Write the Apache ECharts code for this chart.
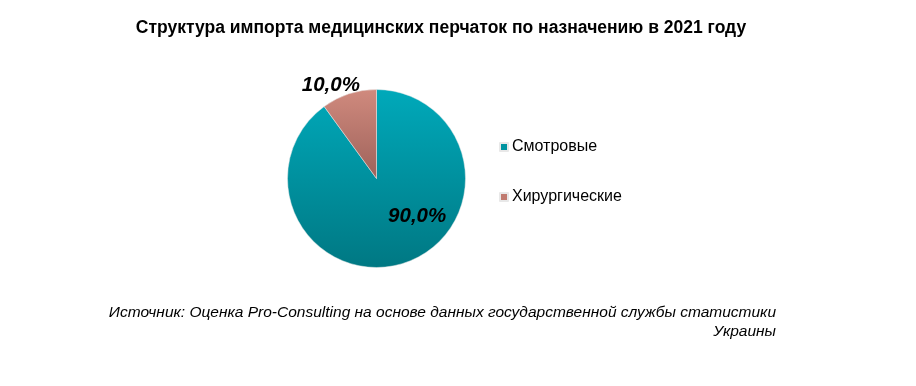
<!DOCTYPE html>
<html><head><meta charset="utf-8">
<script src="https://cdn.jsdelivr.net/npm/echarts@6/dist/echarts.min.js"></script>
<style>html,body{margin:0;padding:0;background:#fff}#c{width:916px;height:386px}</style>
</head><body><div id="c"></div>
<script>
var categories = ['Смотровые', 'Хирургические'];
var values = [90.0, 10.0];
var titleText = 'Структура импорта медицинских перчаток по назначению в 2021 году';
var sourceText = 'Источник: Оценка Pro-Consulting на основе данных государственной службы статистики\nУкраины';

var colors = [
  new echarts.graphic.LinearGradient(0, 0, 0, 1, [{offset: 0, color: '#00a9ba'}, {offset: 1, color: '#007883'}]),
  new echarts.graphic.LinearGradient(0, 0, 0, 1, [{offset: 0, color: '#d08a7e'}, {offset: 1, color: '#9e625a'}])
];
var legendColors = ['#0093a0', '#c07a70'];
var labelOffsets = [[26, -7], [-31, -48]];

var chart = echarts.init(document.getElementById('c'), null, {renderer: 'canvas'});
chart.setOption({
  backgroundColor: '#fff',
  animation: false,
  title: [{
    text: titleText, left: 436, top: 14, textAlign: 'center',
    textStyle: {fontFamily: 'Liberation Sans', fontWeight: 'bold', fontSize: 17.5, color: '#000'}
  }, {
    text: sourceText, left: 771, top: 298, textAlign: 'right',
    textStyle: {fontFamily: 'Liberation Sans', fontStyle: 'italic', fontWeight: 'normal', fontSize: 15.5, color: '#000', lineHeight: 19, align: 'right'}
  }],
  legend: {
    orient: 'vertical', left: 494, top: 134, itemGap: 34,
    itemWidth: 8, itemHeight: 8, icon: 'rect',
    textStyle: {fontFamily: 'Liberation Sans', fontSize: 16, color: '#000', padding: [0, 0, 0, -1]},
    data: categories.map(function (c, i) { return {name: c, itemStyle: {color: legendColors[i]}}; })
  },
  series: [{
    type: 'pie', center: [376.5, 178.5], radius: 89, startAngle: 90, clockwise: true,
    itemStyle: {borderColor: '#e8e8e8', borderWidth: 0.5},
    labelLine: {show: false},
    label: {
      show: true, position: 'inside', fontFamily: 'Liberation Sans', fontStyle: 'italic', fontWeight: 'bold',
      fontSize: 20.5, color: '#000',
      formatter: function (p) { return p.value.toFixed(1).replace('.', ',') + '%'; }
    },
    emphasis: {disabled: true},
    data: categories.map(function (c, i) {
      return {name: c, value: values[i], itemStyle: {color: colors[i]}, label: {offset: labelOffsets[i]}};
    })
  }]
});
</script></body></html>
